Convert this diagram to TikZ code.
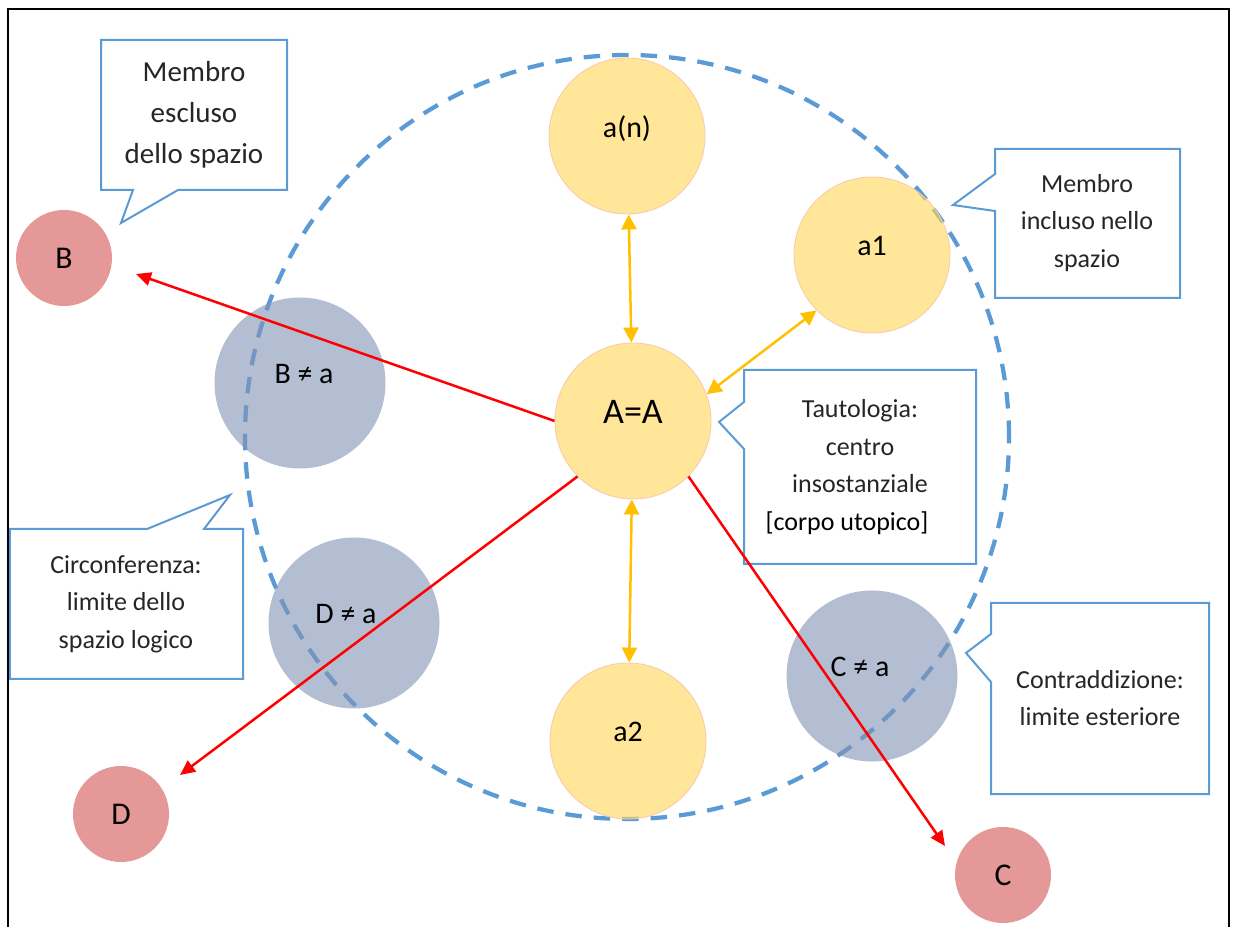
\documentclass[tikz,border=0pt]{standalone}
\usepackage{fontspec}
\setmainfont{Carlito}
\usepackage{tikz}
\usetikzlibrary{arrows.meta}

\definecolor{noteblue}{RGB}{91,155,213}
\definecolor{memberfill}{RGB}{255,213,85}
\definecolor{memberedge}{RGB}{248,203,173}
\definecolor{otherfill}{RGB}{130,147,180}
\definecolor{outerfill}{RGB}{229,152,152}
\definecolor{linkorange}{RGB}{255,192,0}

\begin{document}
\begin{tikzpicture}
      [
        x=0.2mm, y=-0.2mm,
        member/.style={circle, inner sep=0pt, minimum size=3.12cm,
          fill=memberfill, fill opacity=0.6, text opacity=1,
          draw=memberedge, line width=0.5pt, text depth=0.36cm,
          font=\fontsize{17}{20}\selectfont},
        other/.style={circle, inner sep=0pt, minimum size=3.42cm,
          fill=otherfill, fill opacity=0.6, text opacity=1,
          text depth=0.38cm, font=\fontsize{17}{20}\selectfont},
        outer/.style={circle, inner sep=0pt, minimum size=1.92cm,
          fill=outerfill, font=\fontsize{18}{21}\selectfont},
        note/.style={draw=noteblue, line width=0.04cm, fill=white,
          line join=miter},
        notetext/.style={align=center, text=black!85,
          font=\fontsize{14.8}{21.3}\selectfont},
        link/.style={<->, >={Triangle[length=0.3cm,width=0.3cm]},
          draw=linkorange, line width=0.05cm},
        contra/.style={->, >={Triangle[length=0.3cm,width=0.27cm]},
          draw=red, line width=0.05cm}
      ]
      \useasboundingbox (0,0) rectangle (1234,927);
      % open frame
      \draw[line width=0.04cm] (8,927) -- (8,9) -- (1229,9) -- (1229,927);
      % limit of the logical space
      \draw[noteblue, line width=0.085cm, dash pattern=on 0.33cm off 0.24cm]
        (627,437) circle (7.64cm);
      % members of the space
      \node[member] (an) at (627,136) {a(n)};
      \node[member] (a1) at (872,255) {a1};
      \node[member, font=\fontsize{20.5}{24}\selectfont] (A) at (633,421) {A=A};
      \node[member] (a2) at (628,741) {a2};
      % members on the border
      \node[other] (Bne) at (300,383) {\hspace*{0.16cm}B ≠ a};
      \node[other] (Dne) at (354,623) {D ≠ a\hspace*{0.32cm}};
      \node[other] (Cne) at (872,676) {C ≠ a\hspace*{0.48cm}};
      % excluded members
      \node[outer] (B) at (64,258) {B};
      \node[outer] (D) at (121,814) {D};
      \node[outer] (C) at (1003,875) {C};
      % callouts
      \draw[note] (101,40) -- (287,40) -- (287,190) -- (178,190) -- (121,223)
        -- (133,190) -- (101,190) -- cycle;
      \node[notetext, font=\fontsize{16.5}{23.3}\selectfont] (escluso) at (194,115)
        {Membro\\escluso\\dello spazio};
      \draw[note] (995,149) -- (1180,149) -- (1180,298) -- (995,298) -- (995,211)
        -- (953,205) -- (995,174) -- cycle;
      \node[notetext] (incluso) at (1087,223) {Membro\\incluso nello\\spazio};
      \draw[note] (744,370) -- (976,370) -- (976,564) -- (744,564) -- (744,449)
        -- (719,422) -- (744,402) -- cycle;
      \node[notetext] (tautologia) at (860,467)
        {Tautologia:\\centro\\insostanziale\\{\color{black}[corpo utopico]}\hspace*{0.52cm}};
      \draw[note] (10,529) -- (147,529) -- (230,495) -- (204,529) -- (243,529)
        -- (243,679) -- (10,679) -- cycle;
      \node[notetext] (circonferenza) at (126,604)
        {Circonferenza:\\limite dello\\spazio logico};
      \draw[note] (991,603) -- (1209,603) -- (1209,794) -- (991,794) -- (991,682)
        -- (966,653) -- (991,634) -- cycle;
      \node[notetext] (contraddizione) at (1100,698)
        {Contraddizione:\\limite esteriore};
      % relations between members
      \draw[link] (an) -- (A);
      \draw[link] (A.20) -- (a1.225);
      \draw[link] (A) -- (a2);
      % towards the excluded members
      \coordinate (tipB) at (136,274);
      \coordinate (tipD) at (180,775);
      \coordinate (tipC) at (945,846);
      \draw[contra] (A.180) -- (tipB);
      \draw[contra] (A.225) -- (tipD);
      \draw[contra] (A.-45) -- (tipC);
    \end{tikzpicture}
\end{document}
